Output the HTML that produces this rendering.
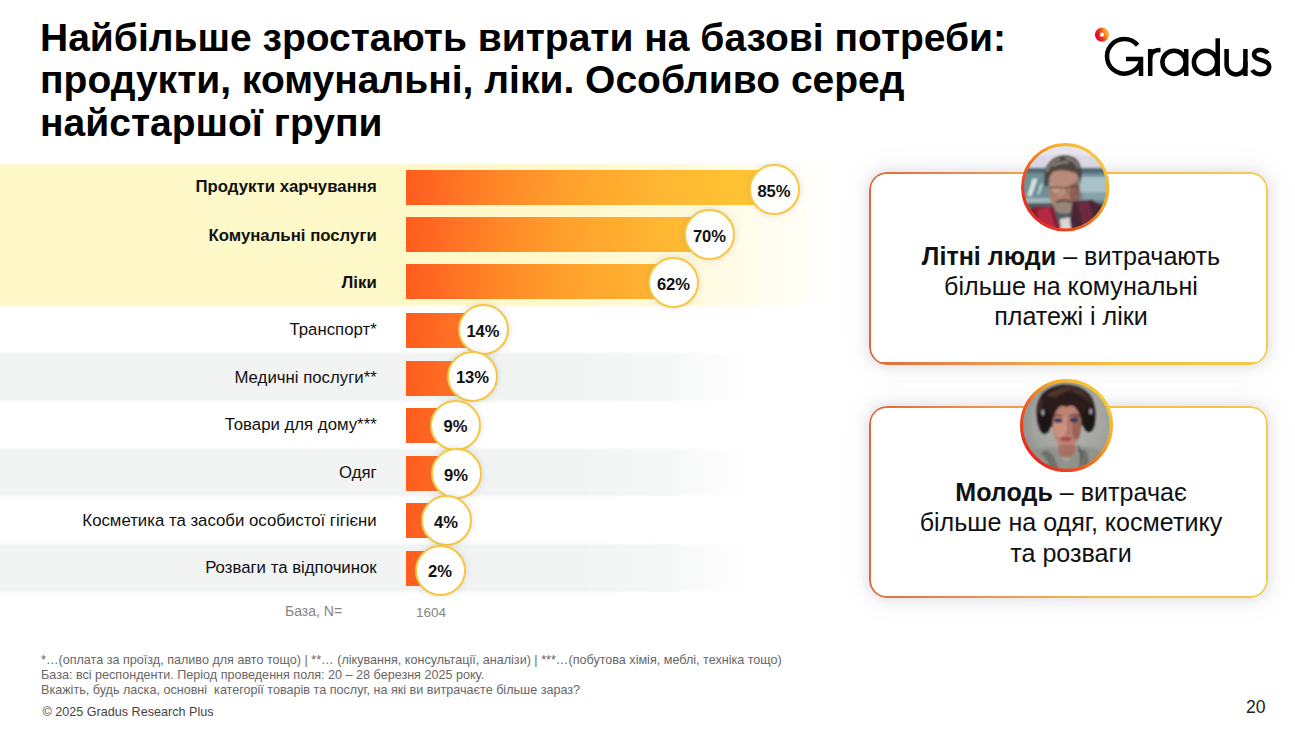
<!DOCTYPE html>
<html><head><meta charset="utf-8">
<style>
*{margin:0;padding:0;box-sizing:border-box}
html,body{width:1295px;height:732px;overflow:hidden;background:#fff}
body{position:relative;font-family:"Liberation Sans",sans-serif;color:#111}
.abs{position:absolute}
#title{left:40px;top:17.2px;font-weight:bold;font-size:39px;line-height:42.3px;color:#000;white-space:nowrap}
#yband{left:-10px;top:163.5px;width:850px;height:142px;background:linear-gradient(90deg,#fff8c9 0,#fff8c9 570px,#fffadf 710px,#fffdf0 780px,rgba(255,255,255,0) 845px);filter:blur(0.8px)}
.gband{left:-10px;width:770px;height:47.5px;background:linear-gradient(90deg,#f2f3f3 0,#f2f3f3 580px,#f6f7f7 670px,rgba(252,252,252,0) 755px);filter:blur(1px)}
.lbl{right:918.3px;font-size:16.8px;white-space:nowrap;text-align:right;line-height:20px}
.lbl.b{font-weight:bold}
.bar{left:406px;height:35px;background:linear-gradient(90deg,#ff5c1e 0,#ff6e24 40px,#ff8a28 100px,#ffa02c 160px,#ffb632 250px,#ffc232 330px,#ffc833 380px);background-size:400px 100%;background-repeat:no-repeat}
.circ{width:51px;height:51px;border-radius:50%;background:#fff;border:2.7px solid #f7c83e;box-shadow:0 0 6px rgba(120,120,140,.25);display:flex;align-items:center;justify-content:center;font-weight:bold;font-size:16.6px;color:#111;padding-top:4px}
.card{left:869px;width:399px;height:192.5px;border-radius:18px;background:#fff;box-shadow:0 0 10px 2px rgba(110,110,140,.15),0 0 26px 6px rgba(110,110,140,.07)}
.card::before{content:"";position:absolute;inset:0;border-radius:18px;padding:2.3px;filter:blur(0.3px);background:linear-gradient(90deg,#dc6a3c 0%,#e8864a 20%,#eea050 38%,#f4be46 60%,#f2cb4e 100%);-webkit-mask:linear-gradient(#000 0 0) content-box,linear-gradient(#000 0 0);-webkit-mask-composite:xor;mask-composite:exclude}
.ctext{left:871px;width:400px;text-align:center;font-size:25.1px;line-height:30.3px;color:#111;white-space:nowrap}
.foot{left:41px;font-size:12.6px;color:#666;white-space:nowrap;line-height:15px}
</style></head><body>

<div id="yband" class="abs"></div>
<div class="abs gband" style="top:353px"></div>
<div class="abs gband" style="top:448.5px"></div>
<div class="abs gband" style="top:544px"></div>

<div id="title" class="abs">Найбільше зростають витрати на базові потреби:<br>продукти, комунальні, ліки. Особливо серед<br>найстаршої групи</div>

<!-- logo -->
<svg class="abs" style="left:1090px;top:20px" width="190" height="65" viewBox="1090 20 190 65">
  <defs>
    <linearGradient id="lg" x1="0" y1="0.7" x2="1" y2="0.3">
      <stop offset="0" stop-color="#de0f2e"/>
      <stop offset="0.45" stop-color="#ee3a1e"/>
      <stop offset="1" stop-color="#f8b02c"/>
    </linearGradient>
  </defs>
  <circle cx="1102" cy="34.7" r="4.6" fill="none" stroke="url(#lg)" stroke-width="5"/>
  <g fill="none" stroke="#000" stroke-width="4.5">
    <path d="M1137.6 45.3 A17.3 17.3 0 1 0 1141 60.9"/>
    <path d="M1126 59 H1141 V76"/>
    <path d="M1150.2 76 V49"/>
    <path d="M1150.2 58 C1150.2 52 1154 50 1160.5 50"/>
    <circle cx="1174" cy="62.3" r="11.6"/>
    <path d="M1186.2 49 V76"/>
    <circle cx="1205.5" cy="62.3" r="11.6"/>
    <path d="M1217.7 38.3 V76"/>
    <path d="M1226.6 49 V65 A9.4 9.4 0 0 0 1245.4 65 V49"/>
    <path d="M1245.4 62 V76"/>
    <path d="M1267.6 53.5 C1265.5 49.2 1256 48.4 1254.3 53 C1252.8 58 1259 59.5 1262.5 60.5 C1268 62 1270.2 64.5 1268.8 69 C1266.6 75.6 1255.5 75.8 1252.3 70"/>
  </g>
</svg>

<!-- labels -->
<div class="abs lbl b" style="top:177px">Продукти харчування</div>
<div class="abs lbl b" style="top:225.5px">Комунальні послуги</div>
<div class="abs lbl b" style="top:272.5px">Ліки</div>
<div class="abs lbl" style="top:319.7px">Транспорт*</div>
<div class="abs lbl" style="top:367.5px">Медичні послуги**</div>
<div class="abs lbl" style="top:415.2px">Товари для дому***</div>
<div class="abs lbl" style="top:462.8px">Одяг</div>
<div class="abs lbl" style="top:510.5px">Косметика та засоби особистої гігієни</div>
<div class="abs lbl" style="top:557.6px">Розваги та відпочинок</div>

<!-- bars -->
<div class="abs bar" style="top:170px;width:368px"></div>
<div class="abs bar" style="top:216.8px;width:304px"></div>
<div class="abs bar" style="top:263.5px;width:268px"></div>
<div class="abs bar" style="top:313px;width:76px"></div>
<div class="abs bar" style="top:360.5px;width:65px"></div>
<div class="abs bar" style="top:408px;width:50px"></div>
<div class="abs bar" style="top:455.5px;width:50px"></div>
<div class="abs bar" style="top:503px;width:40px"></div>
<div class="abs bar" style="top:550.5px;width:30px"></div>

<!-- circles -->
<div class="abs circ" style="left:748.5px;top:164px">85%</div>
<div class="abs circ" style="left:684px;top:209px">70%</div>
<div class="abs circ" style="left:648px;top:257px">62%</div>
<div class="abs circ" style="left:457.5px;top:304px">14%</div>
<div class="abs circ" style="left:447px;top:350.5px">13%</div>
<div class="abs circ" style="left:430px;top:399.5px">9%</div>
<div class="abs circ" style="left:430.5px;top:448px">9%</div>
<div class="abs circ" style="left:420.5px;top:495px">4%</div>
<div class="abs circ" style="left:414.5px;top:544.5px">2%</div>

<div class="abs foot" style="top:604px;left:285px;font-size:14px;color:#858585">База, N=</div>
<div class="abs foot" style="top:604.5px;left:416px;font-size:13.5px;color:#858585">1604</div>

<!-- cards -->
<div class="abs card" style="top:172px"></div>
<div class="abs card" style="top:406px;height:192px"></div>

<!-- avatar 1 -->
<svg class="abs" style="left:1021px;top:143px" width="88.5" height="88.5" viewBox="0 0 100 100">
  <defs>
    <clipPath id="c1"><circle cx="50" cy="50" r="47"/></clipPath>
    <filter id="bl1" x="-10%" y="-10%" width="120%" height="120%"><feGaussianBlur stdDeviation="1.2"/></filter>
    <linearGradient id="ring1" x1="0.15" y1="0.85" x2="0.85" y2="0.15">
      <stop offset="0" stop-color="#e8281e"/>
      <stop offset="0.4" stop-color="#f06a1e"/>
      <stop offset="0.7" stop-color="#f5a826"/>
      <stop offset="1" stop-color="#f6c433"/>
    </linearGradient>
  </defs>
  <g clip-path="url(#c1)">
    <rect x="0" y="0" width="100" height="100" fill="#6d8a92"/>
    <g filter="url(#bl1)">
      <rect x="0" y="0" width="100" height="30" fill="#dcd7e4"/>
      <rect x="0" y="0" width="100" height="14" fill="#e8e4ee"/>
      <rect x="0" y="28" width="100" height="6" fill="#4f6b74"/>
      <rect x="0" y="34" width="100" height="32" fill="#6f8e97"/>
      <rect x="66" y="38" width="32" height="18" fill="#a9c2c8"/>
      <rect x="70" y="56" width="30" height="8" fill="#88a4aa"/>
      <path d="M13 40 L19 40 L12 60 L7 60Z" fill="#d2e2e4"/>
      <path d="M22 46 L25 46 L21 58 L18 58Z" fill="#b8ccd0"/>
      <rect x="0" y="62" width="40" height="6" fill="#a2b6ba"/>
      <rect x="0" y="68" width="100" height="40" fill="#4c5c62"/>
      <ellipse cx="48.5" cy="54" rx="17" ry="24" fill="#ae7f6e"/>
      <ellipse cx="42" cy="48" rx="9" ry="12" fill="#c29684"/>
      <ellipse cx="61" cy="57" rx="6" ry="15" fill="#8c6254"/>
      <ellipse cx="48" cy="38" rx="16" ry="11" fill="#b88a78"/>
      <path d="M27 50 Q22 20 44 14 Q67 11 69 34 L67 47 Q66 38 62 34 Q50 29 37 32 Q31 36 31 48Z" fill="#4e4641"/>
      <path d="M29 32 Q34 20 44 18 M50 17 Q61 18 65 28 M36 26 Q44 21 54 22" stroke="#8e8882" stroke-width="2.2" fill="none"/>
      <path d="M32 51 Q39 48 46 51 Q48 49.5 51 51 Q57 48 65 50" stroke="#4a3832" stroke-width="1.3" fill="none"/>
      <path d="M33 52 Q34 58 40 58 Q46 57 46 52 M51 52 Q52 57 58 57 Q64 57 64 51" stroke="#6a524a" stroke-width="0.8" fill="none"/>
      <path d="M37 66 Q48 62 60 66 L58 77 Q48 83 39 77Z" fill="#9a8678"/>
      <path d="M40 67 Q49 62.5 57 67" stroke="#5a4840" stroke-width="2.6" fill="none"/>
      <path d="M0 84 L14 72 L36 72 L46 100 L0 100Z" fill="#861a2e"/>
      <path d="M18 76 L32 72 L40 100 L24 100Z" fill="#b42a44"/>
      <path d="M58 66 L80 64 L100 76 L100 100 L54 100Z" fill="#4a2634"/>
      <path d="M64 68 L76 66 L86 100 L72 100Z" fill="#6e2a3c"/>
      <path d="M44 86 L55 84 L57 100 L45 100Z" fill="#dcd6d2"/>
    </g>
  </g>
  <circle cx="50" cy="50" r="48.3" fill="none" stroke="url(#ring1)" stroke-width="3.4"/>
</svg>

<!-- avatar 2 -->
<svg class="abs" style="left:1019.5px;top:379px" width="93" height="93" viewBox="0 0 100 100">
  <defs>
    <clipPath id="c2"><circle cx="50" cy="50" r="47"/></clipPath>
    <filter id="bl2" x="-10%" y="-10%" width="120%" height="120%"><feGaussianBlur stdDeviation="1.2"/></filter>
    <linearGradient id="ring2" x1="0.15" y1="0.85" x2="0.85" y2="0.15">
      <stop offset="0" stop-color="#e8281e"/>
      <stop offset="0.4" stop-color="#f06a1e"/>
      <stop offset="0.7" stop-color="#f5a826"/>
      <stop offset="1" stop-color="#f6c433"/>
    </linearGradient>
    <radialGradient id="bg2" cx="0.55" cy="0.45" r="0.6">
      <stop offset="0" stop-color="#b6b7b2"/>
      <stop offset="0.7" stop-color="#a0a29d"/>
      <stop offset="1" stop-color="#888a86"/>
    </radialGradient>
  </defs>
  <g clip-path="url(#c2)">
    <rect x="0" y="0" width="100" height="100" fill="url(#bg2)"/>
    <g filter="url(#bl2)">
      <path d="M19 48 Q12 10 46 6 Q84 6 81 44 L74 50 L26 52Z" fill="#2a1e1b"/>
      <path d="M28 18 Q44 4 64 11 Q50 11 38 20Z" fill="#4e352c"/>
      <path d="M56 9 Q72 12 76 26 Q68 17 58 15Z" fill="#473129"/>
      <path d="M24 22 Q20 30 22 40" stroke="#4a342c" stroke-width="2" fill="none"/>
      <ellipse cx="26.5" cy="45" rx="7" ry="14" fill="#1a1919"/>
      <ellipse cx="74" cy="44" rx="6.8" ry="13" fill="#1a1919"/>
      <ellipse cx="24.5" cy="36" rx="1.6" ry="3.2" fill="#a0a0a0"/>
      <ellipse cx="76" cy="35" rx="1.6" ry="3.2" fill="#a0a0a0"/>
      <ellipse cx="50.5" cy="50" rx="15.5" ry="23.5" fill="#bc8272"/>
      <ellipse cx="43.5" cy="50" rx="7.5" ry="13" fill="#cc9080"/>
      <ellipse cx="60.5" cy="52" rx="5" ry="13" fill="#9a6456"/>
      <path d="M33 37 Q40 26 50 30 Q60 26 68 35 L68 27 Q58 19 48 20 Q36 20 32 30Z" fill="#2a1e1b"/>
      <ellipse cx="41" cy="44.5" rx="4.6" ry="2.5" fill="#38385e"/>
      <ellipse cx="58" cy="44" rx="4.8" ry="2.5" fill="#38385e"/>
      <path d="M35 40.5 Q41 37.5 46 40.5 M53 40 Q59 37 65 40" stroke="#3a2a24" stroke-width="1.4" fill="none"/>
      <path d="M51 46 L53 58 L49 59" stroke="#9a6052" stroke-width="1.3" fill="none"/>
      <ellipse cx="49.5" cy="64.5" rx="6.5" ry="2.5" fill="#a84a48"/>
      <rect x="41" y="71" width="19" height="13" fill="#a87060"/>
      <path d="M0 100 L4 84 Q22 70 38 74 L50 92 L62 74 Q78 70 94 82 L100 100Z" fill="#8f938b"/>
      <path d="M28 76 Q38 80 42 100 L33 100 Q31 86 22 80Z" fill="#6c7069"/>
      <path d="M62 76 Q70 84 66 100 L72 100 Q76 84 70 76Z" fill="#6c7069"/>
      <path d="M84 88 L98 78 L100 100 L88 100Z" fill="#26262a"/>
      <path d="M62 72 Q68 80 64 100" stroke="#3a3a3a" stroke-width="1.3" fill="none"/>
    </g>
  </g>
  <circle cx="50" cy="50" r="48.3" fill="none" stroke="url(#ring2)" stroke-width="3.4"/>
</svg>

<div class="abs ctext" style="top:240.7px"><b>Літні люди</b> – витрачають<br>більше на комунальні<br>платежі і ліки</div>
<div class="abs ctext" style="top:477.1px"><b>Молодь</b> – витрачає<br>більше на одяг, косметику<br>та розваги</div>

<!-- footer -->
<div class="abs foot" style="top:653px">*…(оплата за проїзд, паливо для авто тощо) | **… (лікування, консультації, аналізи) | ***…(побутова хімія, меблі, техніка тощо)</div>
<div class="abs foot" style="top:667.8px">База: всі респонденти. Період проведення поля: 20 – 28 березня 2025 року.</div>
<div class="abs foot" style="top:682.6px">Вкажіть, будь ласка, основні&nbsp; категорії товарів та послуг, на які ви витрачаєте більше зараз?</div>
<div class="abs foot" style="top:704.5px;left:42.5px;color:#444">© 2025 Gradus Research Plus</div>
<div class="abs" style="left:1246px;top:697px;font-size:17.6px;color:#222">20</div>

</body></html>
